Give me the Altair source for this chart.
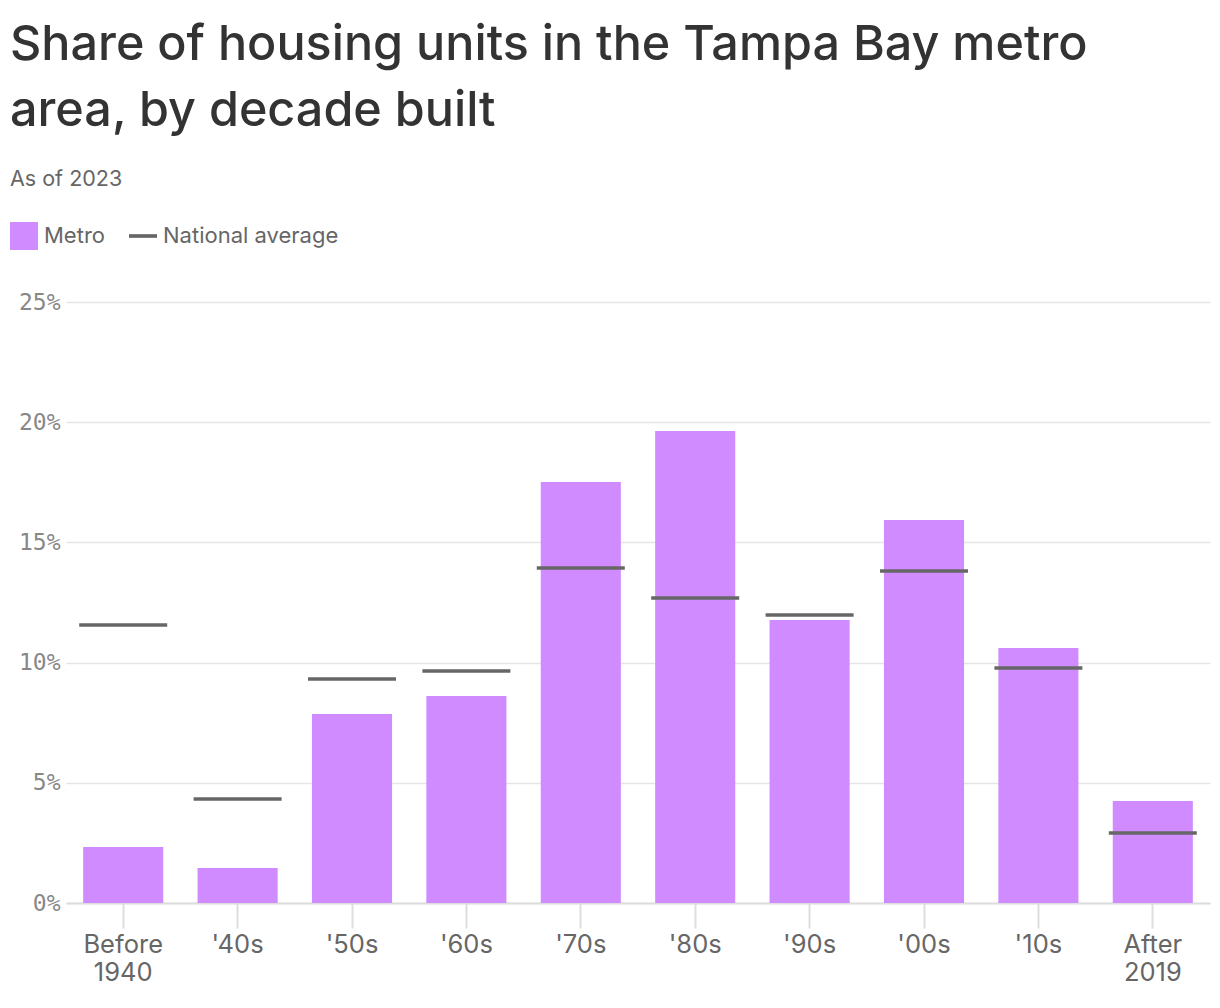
import altair as alt
import pandas as pd

decades = ["Before 1940", "'40s", "'50s", "'60s", "'70s", "'80s", "'90s", "'00s", "'10s", "After 2019"]
metro = [2.33, 1.46, 7.86, 8.61, 17.51, 19.63, 11.77, 15.93, 10.61, 4.24]
national = [11.56, 4.33, 9.32, 9.65, 13.94, 12.69, 11.98, 13.81, 9.78, 2.91]
y_ticks = [0, 5, 10, 15, 20, 25]

df_metro = pd.DataFrame({"decade": decades, "value": metro, "series": "Metro"})
df_nat = pd.DataFrame({"decade": decades, "value": national, "series": "National average"})

FONT = "Inter"

x_enc = alt.X(
    "decade:N",
    sort=decades,
    title=None,
    scale=alt.Scale(paddingInner=0.3, paddingOuter=0.15),
    axis=alt.Axis(
        labelAngle=0,
        labelFont=FONT,
        labelFontSize=25.5,
        labelColor="#666666",
        labelPadding=4,
        labelLineHeight=28,
        labelExpr="split(datum.label, ' ')",
        tickColor="#dddddd",
        tickSize=25,
        tickWidth=2,
        domainColor="#dddddd",
        domainWidth=2,
        grid=False,
    ),
)

y_scale = alt.Scale(domain=[0, 25])
y_axis = alt.Axis(
    values=y_ticks,
    labelExpr="datum.value + '%'",
    labelFont="DejaVu Sans Mono",
    labelFontSize=23,
    labelColor="#888888",
    labelPadding=6,
    gridColor="#e5e5e5",
    gridWidth=1.5,
    domain=False,
    ticks=False,
)

legend_common = dict(
    orient="none",
    direction="horizontal",
    title=None,
    labelFont=FONT,
    labelFontSize=22,
    labelColor="#666666",
    labelLimit=400,
    symbolSize=784,
    symbolStrokeWidth=0,
    symbolOpacity=1,
    labelOffset=6,
)

bars = alt.Chart(df_metro).mark_bar().encode(
    x=x_enc,
    y=alt.Y("value:Q", scale=y_scale, axis=y_axis, title=None),
    color=alt.Color(
        "series:N",
        scale=alt.Scale(domain=["Metro"], range=["#cf8bff"]),
        legend=alt.Legend(legendX=-56, legendY=-80, symbolType="square", **legend_common),
    ),
)

ticks = alt.Chart(df_nat).mark_tick(size=88, thickness=3.5, opacity=1).encode(
    x=alt.X("decade:N", sort=decades),
    y=alt.Y("value:Q", scale=y_scale),
    fill=alt.Fill(
        "series:N",
        scale=alt.Scale(domain=["National average"], range=["#666666"]),
        legend=alt.Legend(
            legendX=63, legendY=-80, symbolType="M-1,-0.13H1V0.13H-1Z", **legend_common
        ),
    ),
)

chart = (
    alt.layer(bars, ticks)
    .resolve_scale(color="independent")
    .properties(
        width=1144,
        height=601,
        title=alt.TitleParams(
            text=["Share of housing units in the Tampa Bay metro", "area, by decade built"],
            subtitle="As of 2023",
            anchor="start",
            frame="bounds",
            font=FONT,
            fontSize=48.5,
            fontWeight=500,
            color="#333333",
            lineHeight=66,
            subtitleFont=FONT,
            subtitleFontSize=21.5,
            subtitleColor="#666666",
            subtitlePadding=32,
            offset=31,
        ),
        padding={"left": 2, "top": 13, "right": 2, "bottom": 2},
    )
    .configure_view(stroke=None)
)

chart.save("out.html", embed_options={"renderer": "svg", "actions": False})
